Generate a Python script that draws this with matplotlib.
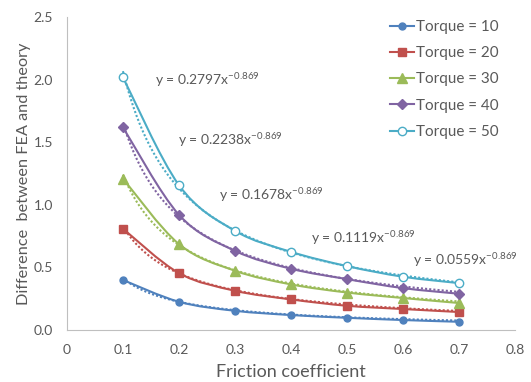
import matplotlib
matplotlib.use("Agg")
import matplotlib.pyplot as plt
import numpy as np
from matplotlib.path import Path
from matplotlib.patches import PathPatch

friction = [0.1, 0.2, 0.3, 0.4, 0.5, 0.6, 0.7]
torque_10 = [0.40, 0.226, 0.154, 0.120, 0.098, 0.080, 0.066]
torque_20 = [0.81, 0.455, 0.314, 0.245, 0.194, 0.168, 0.144]
torque_30 = [1.21, 0.687, 0.474, 0.365, 0.300, 0.256, 0.216]
torque_40 = [1.62, 0.921, 0.633, 0.490, 0.407, 0.335, 0.290]
torque_50 = [2.02, 1.158, 0.793, 0.625, 0.511, 0.426, 0.375]
series = [torque_10, torque_20, torque_30, torque_40, torque_50]
labels = ["Torque = 10", "Torque = 20", "Torque = 30", "Torque = 40", "Torque = 50"]

# power trendline coefficients shown on the chart
fit_coef = [0.0559, 0.1119, 0.1678, 0.2238, 0.2797]
fit_exp = -0.869
eq_pos = [(0.617, 0.56), (0.435, 0.735), (0.272, 1.08), (0.199, 1.52), (0.158, 2.0)]

colors = ["#4F81BD", "#C0504D", "#9BBB59", "#8064A2", "#4BACC6"]
markers = ["o", "s", "^", "D", "o"]
msizes = [5, 6, 7, 5, 6]

plt.rcParams["font.family"] = ["Lato", "DejaVu Sans"]
plt.rcParams["mathtext.fontset"] = "custom"
plt.rcParams["mathtext.rm"] = "Lato"
plt.rcParams["mathtext.it"] = "Lato"

GREY = "#595959"


def smooth_path(xs, ys):
    # Excel-style smoothed line: cubic Bezier segments
    n = len(xs)
    verts = [(xs[0], ys[0])]
    codes = [Path.MOVETO]
    for i in range(n - 1):
        x0, y0 = xs[max(i - 1, 0)], ys[max(i - 1, 0)]
        x1, y1 = xs[i], ys[i]
        x2, y2 = xs[i + 1], ys[i + 1]
        x3, y3 = xs[min(i + 2, n - 1)], ys[min(i + 2, n - 1)]
        c1 = (x1 + (x2 - x0) / 6, y1 + (y2 - y0) / 6)
        c2 = (x2 - (x3 - x1) / 6, y2 - (y3 - y1) / 6)
        verts += [c1, c2, (x2, y2)]
        codes += [Path.CURVE4] * 3
    return Path(verts, codes)


fig = plt.figure(figsize=(5.31, 3.82), dpi=100)
ax = fig.add_axes([0.126, 0.136, 0.844, 0.819])

xfit = np.linspace(0.1, 0.7, 100)
for vals, lab, c, m, ms, a, pos in zip(series, labels, colors, markers, msizes,
                                        fit_coef, eq_pos):
    ax.plot(xfit, a * xfit ** fit_exp, color=c, lw=1.5, ls=(0, (1, 1)), zorder=2)
    ax.add_patch(PathPatch(smooth_path(friction, vals), fc="none", ec=c, lw=1.5, zorder=3))
    face = "white" if lab.endswith("50") else c
    ax.plot(friction, vals, ls="none", marker=m, ms=ms, mfc=face, mec=c,
            mew=1.0, zorder=4)
    ax.plot([], [], color=c, lw=1.5, marker=m, ms=ms, mfc=face, mec=c, label=lab)
    ax.text(pos[0], pos[1], f"y = {a:.4f}x$^{{{fit_exp}}}$", fontsize=10,
            color=GREY, va="center", ha="left")

ax.set_xlim(0, 0.8)
ax.set_ylim(0, 2.5)
ax.set_xticks(np.arange(0, 0.81, 0.1))
ax.set_yticks(np.arange(0, 2.51, 0.5))
ax.set_xticklabels(["0" if v == 0 else f"{v:.1f}" for v in np.arange(0, 0.81, 0.1)])
ax.set_yticklabels([f"{v:.1f}" for v in np.arange(0, 2.51, 0.5)])
ax.tick_params(length=0, labelsize=10, colors=GREY)
ax.tick_params(axis="y", pad=10)
ax.tick_params(axis="x", pad=10)
for s in ["top", "right"]:
    ax.spines[s].set_visible(False)
for s in ["left", "bottom"]:
    ax.spines[s].set_color("#BFBFBF")
ax.set_xlabel("Friction coefficient", fontsize=13, color=GREY, labelpad=6)
ax.set_ylabel("Difference  between FEA and theory", fontsize=11.7, color=GREY, labelpad=2)

leg = ax.legend(loc="upper left", bbox_to_anchor=(0.69, 1.035), frameon=False,
                fontsize=11, handlelength=1.6, handletextpad=0.1, labelspacing=0.8,
                labelcolor=GREY)

fig.savefig("out.png", dpi=100)
plt.close(fig)
